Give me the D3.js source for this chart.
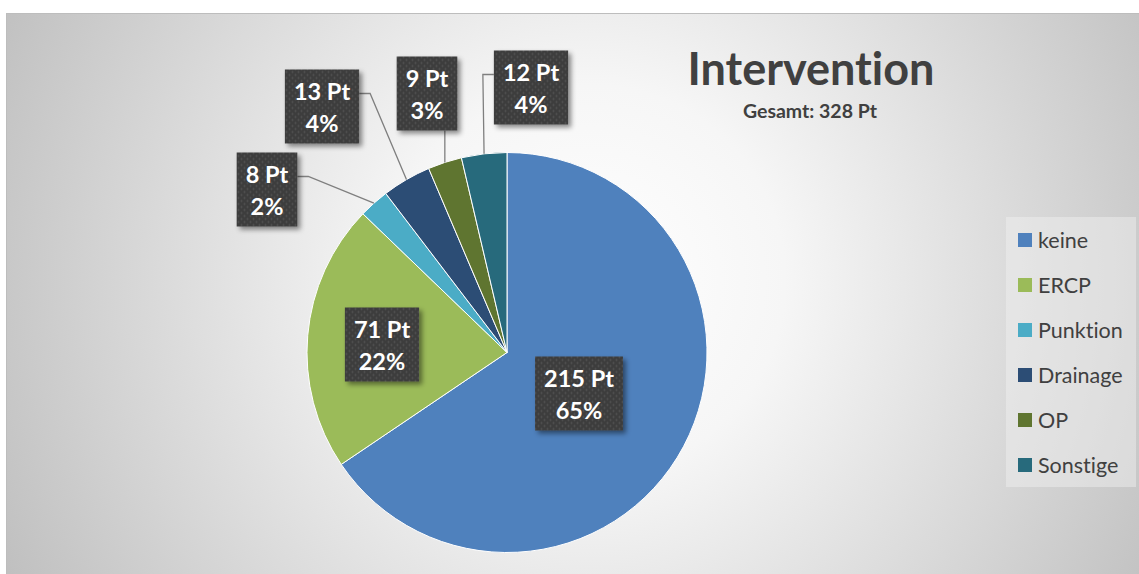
<!DOCTYPE html>
<html>
<head>
<meta charset="utf-8">
<title>Intervention</title>
<script src="https://cdn.jsdelivr.net/npm/d3@7/dist/d3.min.js"></script>
<style>
  body { margin: 0; background: #fff; overflow: hidden; }
  text { font-family: Lato, "Open Sans", sans-serif; font-variant-ligatures: none; }
  .slice { stroke: #fff; stroke-width: 1; }
  .leader { fill: none; stroke: #7f7f7f; stroke-width: 1.3px; }
  .lbl { fill: #fff; font-weight: 700; font-size: 23.5px; text-anchor: middle; }
  .legend-text { fill: #404040; font-size: 21.5px; }
</style>
</head>
<body>
<div id="chart"></div>
<script>
// data
var categories = ["keine", "ERCP", "Punktion", "Drainage", "OP", "Sonstige"];
var values = [215, 71, 8, 13, 9, 12];
var percentLabels = ["65%", "22%", "2%", "4%", "3%", "4%"];
var colors = ["#4f81bd", "#9bbb59", "#4bacc6", "#2c4d75", "#5f7530", "#276a7c"];
var title = "Intervention";
var subtitle = "Gesamt: 328 Pt";

// label box centres, relative to the pie centre (layout only)
var labelOffsets = [[72, 41], [-125, -8], [-240, -163], [-185, -246], [-80, -259], [24, -265]];

var width = 1139, height = 574;
var cx = 507, cy = 352.5, radius = 200;

var svg = d3.select("#chart").append("svg")
  .attr("width", width)
  .attr("height", height);

var defs = svg.append("defs");

var grad = defs.append("radialGradient")
  .attr("id", "bg")
  .attr("gradientUnits", "userSpaceOnUse")
  .attr("cx", 590).attr("cy", 280).attr("r", 650);
grad.append("stop").attr("offset", "0").attr("stop-color", "#ffffff");
grad.append("stop").attr("offset", "0.3").attr("stop-color", "#f6f6f6");
grad.append("stop").attr("offset", "1").attr("stop-color", "#c0c0c0");

var pat = defs.append("pattern")
  .attr("id", "dots")
  .attr("patternUnits", "userSpaceOnUse")
  .attr("width", 6).attr("height", 6);
pat.append("rect").attr("width", 6).attr("height", 6).attr("fill", "#3d3d3d");
pat.append("circle").attr("cx", 1.5).attr("cy", 1.5).attr("r", 0.9).attr("fill", "#555");
pat.append("circle").attr("cx", 4.5).attr("cy", 4.5).attr("r", 0.9).attr("fill", "#555");

var shadow = defs.append("filter").attr("id", "shadow")
  .attr("x", "-20%").attr("y", "-20%").attr("width", "150%").attr("height", "150%");
shadow.append("feDropShadow")
  .attr("dx", 3).attr("dy", 3).attr("stdDeviation", 2.5)
  .attr("flood-color", "#000").attr("flood-opacity", 0.45);

// chart area
svg.append("rect")
  .attr("x", 6.5).attr("y", 13.5)
  .attr("width", width).attr("height", height)
  .attr("fill", "url(#bg)")
  .attr("stroke", "#bdbdbd");

// pie
var pie = d3.pie().sort(null).value(function(d) { return d; });
var arcs = pie(values);
var arc = d3.arc().innerRadius(0).outerRadius(radius);

var pieG = svg.append("g").attr("transform", "translate(" + cx + "," + cy + ")");

pieG.selectAll("path.slice")
  .data(arcs)
  .enter().append("path")
  .attr("class", "slice")
  .attr("fill", function(d, i) { return colors[i]; })
  .attr("d", arc);

// data labels
var labelG = pieG.append("g");

arcs.forEach(function(d, i) {
  var off = labelOffsets[i];
  var g = labelG.append("g");
  var t1 = g.append("text").attr("class", "lbl").text(values[i] + " Pt");
  var t2 = g.append("text").attr("class", "lbl").text(percentLabels[i]);
  var w = Math.max(t1.node().getComputedTextLength(), t2.node().getComputedTextLength()) + 18;
  var h = 74;
  var x0 = off[0] - w / 2, y0 = off[1] - h / 2;
  t1.attr("x", off[0]).attr("y", y0 + 30);
  t2.attr("x", off[0]).attr("y", y0 + 62);
  g.insert("rect", "text")
    .attr("x", x0).attr("y", y0)
    .attr("width", w).attr("height", h)
    .attr("fill", "url(#dots)")
    .attr("filter", "url(#shadow)");

  // leader line for labels outside the pie
  var mid = (d.startAngle + d.endAngle) / 2;
  var px = radius * Math.sin(mid), py = -radius * Math.cos(mid);
  var outside = Math.hypot(off[0], off[1]) > radius;
  if (!outside) return;
  var pts;
  if (px >= x0 && px <= x0 + w) {
    pts = [[px, py], [px, y0 + h]];
  } else {
    var edge = px < x0 ? x0 : x0 + w;
    var ex = px < x0 ? x0 - 11 : x0 + w + 11;
    pts = [[px, py], [ex, y0 + 24], [edge, y0 + 24]];
  }
  labelG.insert("path", "g")
    .attr("class", "leader")
    .attr("d", d3.line()(pts));
});

// title
svg.append("text")
  .attr("x", 811).attr("y", 85)
  .attr("text-anchor", "middle")
  .attr("fill", "#404040")
  .attr("font-weight", 700)
  .attr("font-size", 45)
  .text(title);

svg.append("text")
  .attr("x", 810).attr("y", 118)
  .attr("text-anchor", "middle")
  .attr("fill", "#404040")
  .attr("font-weight", 700)
  .attr("font-size", 19.5)
  .text(subtitle);

// legend
var legend = svg.append("g").attr("transform", "translate(1006,217)");
legend.append("rect")
  .attr("width", 130).attr("height", 270)
  .attr("fill", "#f2f2f2").attr("fill-opacity", 0.45);

var rowY = d3.scalePoint().domain(categories).range([23, 248]);

var items = legend.selectAll("g.item")
  .data(categories)
  .enter().append("g")
  .attr("class", "item")
  .attr("transform", function(d) { return "translate(0," + rowY(d) + ")"; });

items.append("rect")
  .attr("x", 12).attr("y", -7)
  .attr("width", 14).attr("height", 14)
  .attr("fill", function(d, i) { return colors[i]; });

items.append("text")
  .attr("class", "legend-text")
  .attr("x", 32).attr("dy", "0.35em")
  .text(function(d) { return d; });
</script>
</body>
</html>
